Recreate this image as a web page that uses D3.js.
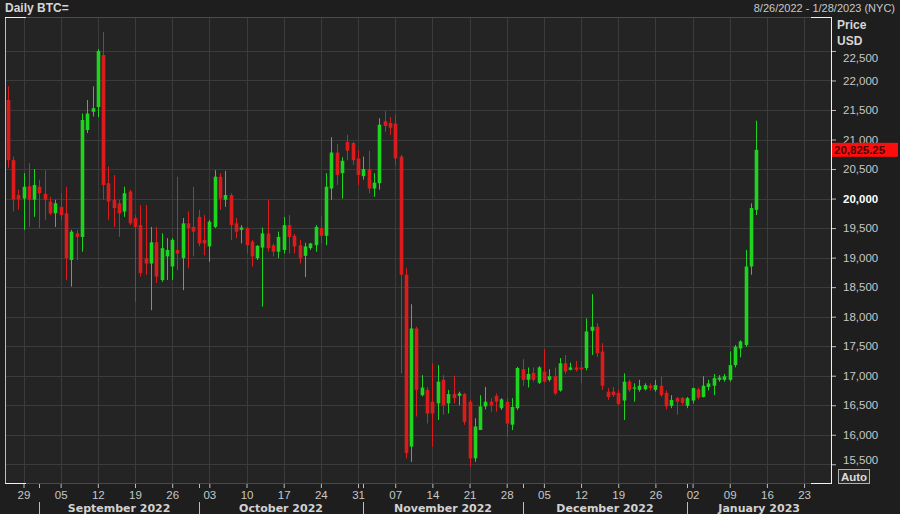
<!DOCTYPE html>
<html><head><meta charset="utf-8">
<script src="https://cdn.jsdelivr.net/npm/d3@7"></script>
<style>body{margin:0;background:#1e1e1e}svg{display:block}</style>
</head><body>
<svg id="c" width="900" height="514"></svg>
<script>
// ---------- DATA ----------
const dates = d3.utcDay.range(new Date(Date.UTC(2022,7,26)), new Date(Date.UTC(2023,0,15)));
const open = [
 21670,20650,20060,20000,20210,19980,
 20200,20080,19950,19750,19860,19750,18960,19410,19350,21160,21470,21550,22430,20260,19980,19920,19780,20120,19670,19550,18990,18900,19260,18620,19020,18850,19130,18990,19580,19520,
 19690,19300,19190,19520,20370,19980,20060,19580,19470,19500,19270,18990,19170,19410,19210,19100,19130,19550,19370,19210,19030,19160,19210,19500,19370,20170,20780,20430,20960,20940,20680,
 20380,20500,20170,20260,21310,21280,21270,20710,18710,15800,17800,16670,16760,16560,16530,16930,16530,16690,16660,16690,16560,15600,16080,16480,16560,16660,16450,16560,16170,16450,
 17110,16930,17050,16880,17070,16930,16990,16750,17210,17100,17140,17140,17130,17760,17830,17410,16730,16730,16710,16580,16900,16790,16760,16770,16830,16760,16830,16710,16490,16620,16620,
 16490,16580,16770,16640,16810,16830,16930,16930,16930,17180,17460,17520,18850,19810
];
const high = [
 21900,20710,20150,20430,20600,20500,
 20320,20480,20030,19980,20090,20200,19470,19470,21440,21670,21900,22530,22820,20540,20400,19980,20200,20150,19720,19890,19890,19520,19520,19410,19330,19330,20370,19670,19780,20200,
 19810,19720,19640,20480,20430,20470,20090,19670,19550,19520,19300,19210,19510,19980,19240,19440,19690,19720,19400,19300,19250,19250,19550,19700,20430,21040,20920,20700,21080,20960,20820,
 20710,20810,20430,21360,21480,21380,21420,20740,18820,18210,17830,17010,16810,17210,17180,17010,16760,17000,16730,16710,16590,16280,16670,16810,16620,16700,16620,16620,16620,17150,
 17280,17140,17140,17160,17450,17110,17140,17300,17350,17220,17250,17250,17970,18380,17890,17550,16790,16810,16760,17040,16930,16870,16930,16870,16870,16930,16980,16750,16670,16640,16640,
 16640,16800,16800,16990,16930,17030,17010,17030,17410,17520,17600,19130,19920,21320
];
const low = [
 20520,19780,19810,19470,19520,19690,
 19500,19640,19720,19520,19640,18620,18510,18960,19100,21110,21390,21380,19980,19640,19520,19350,19690,19550,18250,18680,18710,18110,18570,18590,18620,18620,18790,18450,18820,19020,
 19190,19040,18930,19500,19810,19860,19300,19330,19240,19070,18850,18960,18170,19100,19020,18990,19070,19070,19070,18900,18670,19130,19100,19240,19210,19980,20230,20000,20650,20570,20230,
 20320,20090,20030,20150,21130,21080,20570,17040,15600,15540,16310,16650,16190,15800,16250,16340,16360,16530,16500,16170,15460,15540,16080,16430,16390,16390,16420,15970,16080,16420,
 16830,16800,16900,16860,16880,16900,16670,16730,17030,17090,17070,16870,17090,17350,17320,16760,16590,16640,16500,16250,16730,16560,16730,16750,16750,16730,16640,16430,16450,16340,16500,
 16450,16530,16600,16630,16750,16670,16900,16900,16900,17140,17310,17490,18710,19720
];
const close = [
 20650,19990,19990,20200,19980,20230,
 20090,19980,19750,19920,19720,18990,19440,19350,21330,21440,21530,22500,20230,19950,19840,19750,20090,19580,19520,18740,18900,19260,18680,19160,19130,19300,19070,19580,19500,19440,
 19240,19240,19610,20370,20000,20060,19550,19440,19510,19210,19020,19200,19410,19160,19100,19350,19550,19350,19190,18990,19190,19240,19520,19370,20200,20780,20400,20640,20810,20650,20400,
 20500,20170,20270,21250,21230,21200,20680,18710,15690,17800,16760,16800,16360,16360,16900,16500,16690,16620,16700,16220,15600,16140,16480,16560,16500,16560,16600,16190,16470,17130,
 16930,17030,16930,17140,16900,16990,16700,17210,17070,17140,17100,17110,17750,17830,17380,16830,16640,16670,16520,16900,16760,16800,16830,16840,16790,16840,16670,16480,16590,16560,16540,
 16620,16790,16630,16830,16870,16960,16970,16990,17180,17490,17580,18850,19840,20825.25
];
const yTicks = [15500,16000,16500,17000,17500,18000,18500,19000,19500,20000,20500,21000,21500,22000,22500];
const monthNames = ["September 2022","October 2022","November 2022","December 2022","January 2023"];
const monthStarts = [Date.UTC(2022,8,1),Date.UTC(2022,9,1),Date.UTC(2022,10,1),Date.UTC(2022,11,1),Date.UTC(2023,0,1)].map(t=>new Date(t));
const lastPrice = 20825.25;
const titleText = "Daily BTC=";
const rangeText = "8/26/2022 - 1/28/2023 (NYC)";

// ---------- LAYOUT ----------
const W=900,H=514;
const P={l:5,r:831,t:17,b:483};
const UP="#1fd41f", DN="#dc1c1c";
const REG="'Liberation Sans',Arial,sans-serif";
const BOLDM="'DejaVu Sans',Verdana,sans-serif";

const svg=d3.select("#c");
svg.append("rect").attr("width",W).attr("height",H).attr("fill","#1e1e1e");
svg.append("rect").attr("x",P.l).attr("y",P.t).attr("width",P.r-P.l).attr("height",P.b-P.t).attr("fill","#242424");

const x=d3.scaleUtc()
  .domain([new Date(Date.UTC(2022,7,25,12,23)), new Date(Date.UTC(2023,0,28,1,40))])
  .range([P.l,P.r]);
const y=d3.scaleLinear().domain([15183,23075]).range([P.b,P.t]);

const mondays=d3.utcMonday.range(x.domain()[0], x.domain()[1]);

// grid
const grid=svg.append("g").attr("stroke","#3b3b3b").attr("stroke-width",1);
grid.selectAll("line.h").data(yTicks).join("line")
  .attr("x1",P.l).attr("x2",P.r)
  .attr("y1",d=>Math.round(y(d))+0.5).attr("y2",d=>Math.round(y(d))+0.5);
grid.selectAll("line.v").data(mondays).join("line")
  .attr("y1",P.t).attr("y2",P.b)
  .attr("x1",d=>Math.round(x(d))+0.5).attr("x2",d=>Math.round(x(d))+0.5);

// candles
const data=dates.map((d,i)=>({d,o:open[i],h:high[i],l:low[i],c:close[i]}));
const cg=svg.append("g");
const cand=cg.selectAll("g").data(data).join("g");
cand.append("line")
  .attr("x1",d=>Math.round(x(d.d))+0.5).attr("x2",d=>Math.round(x(d.d))+0.5)
  .attr("y1",d=>y(d.h)).attr("y2",d=>y(d.l))
  .attr("stroke",d=>d.c>=d.o?UP:DN).attr("stroke-width",1);
cand.append("rect")
  .attr("x",d=>Math.round(x(d.d))+0.5-1.8).attr("width",3.6)
  .attr("y",d=>y(Math.max(d.o,d.c)))
  .attr("height",d=>Math.max(1.2,Math.abs(y(d.o)-y(d.c))))
  .attr("fill",d=>d.c>=d.o?UP:DN);

// frame
const fr=svg.append("g");
fr.append("line").attr("x1",P.l).attr("x2",P.r).attr("y1",P.t+0.5).attr("y2",P.t+0.5).attr("stroke","#4a4a4a");
fr.append("line").attr("x1",P.l).attr("x2",P.r).attr("y1",P.b+0.5).attr("y2",P.b+0.5).attr("stroke","#4a4a4a");
fr.append("line").attr("x1",P.l+0.5).attr("x2",P.l+0.5).attr("y1",P.t).attr("y2",P.b+1).attr("stroke","#bdbdbd");
fr.append("line").attr("x1",P.r+0.5).attr("x2",P.r+0.5).attr("y1",P.t).attr("y2",P.b+1).attr("stroke","#f0f0f0");
[[P.l,P.t],[P.r-20,P.t],[P.l,P.b],[P.r-20,P.b]].forEach(([a,b])=>{
  fr.append("line").attr("x1",a).attr("x2",a+21).attr("y1",b+0.5).attr("y2",b+0.5).attr("stroke","#f0f0f0");
});

// y axis
const ya=svg.append("g").attr("transform",`translate(${P.r+1},0)`)
  .call(d3.axisRight(y).tickValues(yTicks).tickSize(4).tickPadding(7).tickFormat(d3.format(",")));
ya.select(".domain").remove();
ya.selectAll(".tick line").attr("stroke","#bdbdbd");
ya.selectAll(".tick text")
  .attr("fill",d=>d===20000?"#ffffff":"#c8c8c8")
  .attr("font-family",REG).attr("font-size",11.5)
  .attr("font-weight",d=>d===20000?"bold":"normal")
  .attr("y",d=>d===22500?7:(d===15500?-4:0));

// x axis
const xa=svg.append("g").attr("transform",`translate(0,${P.b+1})`)
  .call(d3.axisBottom(x).tickValues(mondays).tickSize(4).tickPadding(3).tickFormat(d3.utcFormat("%d")));
xa.select(".domain").remove();
xa.selectAll(".tick line").attr("stroke","#bdbdbd");
xa.selectAll(".tick text").attr("fill","#c8c8c8").attr("font-family",REG).attr("font-size",11.5);
// month boundary ticks & separators
const mg=svg.append("g");
mg.selectAll("line.mt").data(monthStarts).join("line")
  .attr("x1",d=>Math.round(x(d))+0.5).attr("x2",d=>Math.round(x(d))+0.5)
  .attr("y1",P.b+1).attr("y2",P.b+5).attr("stroke","#bdbdbd");
mg.selectAll("line.ms").data(monthStarts).join("line")
  .attr("x1",d=>Math.round(x(d))+0.5).attr("x2",d=>Math.round(x(d))+0.5)
  .attr("y1",502).attr("y2",514).attr("stroke","#bdbdbd");
const dEnd=x.domain()[1];
mg.selectAll("text").data(monthNames).join("text")
  .attr("x",(d,i)=>{const s=x(monthStarts[i]);const e=x(i<monthStarts.length-1?monthStarts[i+1]:dEnd);return (s+Math.min(e,P.r))/2;})
  .attr("y",512).attr("text-anchor","middle")
  .attr("fill","#d2d2d2").attr("font-family",BOLDM).attr("font-weight","bold").attr("font-size",11)
  .text(d=>d);

// header
svg.append("text").attr("x",5).attr("y",12).attr("fill","#d6d6d6")
  .attr("font-family",REG).attr("font-weight","bold").attr("font-size",12).text(titleText);
svg.append("text").attr("x",895).attr("y",12).attr("text-anchor","end").attr("fill","#c8c8c8")
  .attr("font-family",REG).attr("font-size",11).text(rangeText);
svg.append("text").attr("x",837).attr("y",29).attr("fill","#d6d6d6")
  .attr("font-family",REG).attr("font-weight","bold").attr("font-size",12).text("Price");
svg.append("text").attr("x",837).attr("y",45).attr("fill","#d6d6d6")
  .attr("font-family",REG).attr("font-weight","bold").attr("font-size",12).text("USD");

// last price tag
const ly=y(lastPrice);
svg.append("rect").attr("x",P.r+1).attr("y",ly-7).attr("width",66).attr("height",14).attr("fill","#ff0d0d");
svg.append("text").attr("x",P.r+3).attr("y",ly+4.5).attr("fill","#4a0606")
  .attr("font-family",REG).attr("font-weight","bold").attr("font-size",11.5).text(d3.format(",.2f")(lastPrice));

// Auto box
svg.append("rect").attr("x",838.5).attr("y",469.5).attr("width",31).attr("height",14)
  .attr("fill","#2a2a2a").attr("stroke","#b0b0b0");
svg.append("text").attr("x",854).attr("y",480.5).attr("text-anchor","middle").attr("fill","#dcdcdc")
  .attr("font-family",REG).attr("font-weight","bold").attr("font-size",11.5).text("Auto");
</script>
</body></html>
